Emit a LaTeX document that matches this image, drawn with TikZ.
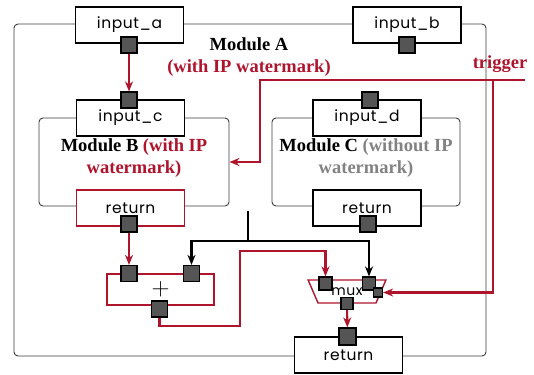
\documentclass[tikz,border=0pt]{standalone}
\usepackage{fontspec}
\setmainfont{Liberation Serif}
\setsansfont{Poppins}[LetterSpace=4.0]
\usepackage{tikz}
\usetikzlibrary{arrows.meta,positioning,shapes.geometric,calc}
\definecolor{ipred}{RGB}{175,20,45}
\definecolor{portgray}{RGB}{85,85,85}
\definecolor{modgray}{RGB}{60,60,60}
\definecolor{plaingray}{RGB}{130,130,130}

\begin{document}
\begin{tikzpicture}[x=1pt, y=-1pt,
    module/.style={rectangle, draw=modgray, rounded corners=4pt, line width=0.9pt, inner sep=0pt},
    io/.style={rectangle, draw, fill=white, line width=1.4pt, minimum width=108pt,
               minimum height=36pt, inner sep=0pt, font=\sffamily\fontsize{15.5}{17}\selectfont},
    port/.style={rectangle, draw, fill=portgray, line width=1.2pt, minimum size=16pt, inner sep=0pt},
    arrow/.style={-{Stealth[length=10pt,width=8pt]}, line width=2.1pt},
    modlabel/.style={font=\bfseries\fontsize{18.5}{21.5}\selectfont, align=center},
]
\useasboundingbox (0,0) rectangle (534,374);
\node[module, minimum width=472pt, minimum height=332pt] (modA) at (250,190) {};
\node[module, minimum width=190pt, minimum height=88pt] (modB) at (134,162) {};
\node[module, minimum width=188pt, minimum height=88pt] (modC) at (366,162) {};
\node[modlabel] (lblA) at (249,57) {Module A\\\textcolor{ipred}{(with IP watermark)}};
\node[modlabel] (lblB) at (134,158) {Module B \textcolor{ipred}{(with IP}\\\textcolor{ipred}{watermark)}};
\node[modlabel] (lblC) at (366,158) {Module C \textcolor{plaingray}{(without IP}\\\textcolor{plaingray}{watermark)}};
\node[modlabel, ipred] (lblT) at (500,64) {trigger};
\node[io] (ina) at (129.5,25) {input\_a};
\node[io] (inb) at (407,25) {input\_b};
\node[io] (inc) at (130.5,118) {input\_c};
\node[io] (ind) at (367,118) {input\_d};
\node[io, draw=ipred] (retB) at (130.5,208) {return};
\node[io] (retC) at (367,208) {return};
\node[io] (ret) at (348.5,355) {return};
\node[draw=ipred, fill=white, line width=1.4pt, minimum width=107pt, minimum height=31pt,
      inner sep=0pt, font=\fontsize{24}{24}\selectfont] (add) at (160.5,289.5) {$+$};
\node[trapezium, shape border rotate=180, trapezium angle=56, trapezium stretches=true,
      draw=ipred, fill=white, line width=1.4pt, minimum width=78pt, minimum height=23pt,
      inner sep=0pt, font=\sffamily\fontsize{14}{14}\selectfont] (mux) at (347,291.5) {mux};
\node[port] (pa) at (129,45) {};
\node[port] (pb) at (407,45) {};
\node[port] (pc) at (129,100) {};
\node[port] (pd) at (370,100) {};
\node[port] (pbr) at (129,224) {};
\node[port] (pcr) at (368,224) {};
\node[port] (addl) at (129,273.5) {};
\node[port] (addr) at (191.5,273.5) {};
\node[port] (addo) at (159.5,309) {};
\node[port, minimum size=13pt] (muxl) at (325.5,283.5) {};
\node[port, minimum size=13pt] (muxr) at (369,283.5) {};
\node[port, minimum size=9pt] (muxs) at (378,292.5) {};
\node[port, minimum size=12pt] (muxo) at (347,303.5) {};
\node[port, minimum size=17pt] (retp) at (347.5,336.5) {};
\coordinate (trig) at (525,80);
\coordinate (trigb) at (493,80);
\coordinate (sel) at (248,211);
\coordinate (selj) at (248,241);
\draw[arrow, ipred] (pa) -- (pc);
\draw[arrow, ipred] (pbr) -- (addl);
\draw[arrow, ipred] (trig) -| (260,162) -- (modB.east);
\draw[arrow, ipred] (trigb) |- (muxs);
\draw[line width=2.1pt] (sel) -- (selj);
\draw[arrow] (selj) -| (addr);
\draw[arrow] (selj) -| (muxr);
\draw[arrow, ipred] (addo) |- (240,326) -- (240,251) -| (muxl);
\draw[arrow, ipred] (muxo) -- (retp);
\end{tikzpicture}
\end{document}
